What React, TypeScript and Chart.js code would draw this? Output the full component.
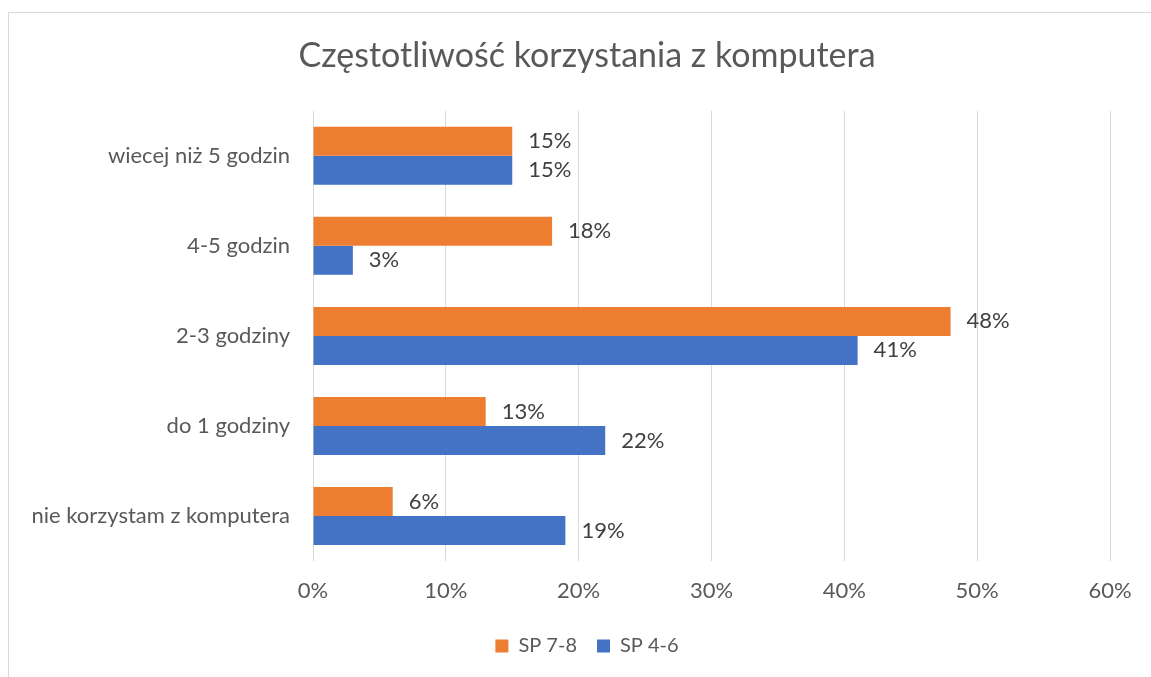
import { useEffect, useRef } from "react";
import { Chart, registerables } from "chart.js";

Chart.register(...registerables);

const chartTitle = "Częstotliwość korzystania z komputera";
const categories = [
  "wiecej niż 5 godzin",
  "4-5 godzin",
  "2-3 godziny",
  "do 1 godziny",
  "nie korzystam z komputera",
];
const seriesNames = ["SP 7-8", "SP 4-6"];
const sp78Values = [15, 18, 48, 13, 6];
const sp46Values = [15, 3, 41, 22, 19];
const xTickMin = 0;
const xTickMax = 60;
const xTickStep = 10;

const FONT = "Lato";
const FS = 22;
const TEXT = "#595959";
const LABEL_TEXT = "#404040";
const GRID = "#d9d9d9";
const ORANGE = "#ED7D31";
const BLUE = "#4472C4";

const dataLabelPlugin = {
  id: "dataLabels",
  afterDatasetsDraw(chart: any) {
    const ctx = chart.ctx;
    ctx.save();
    ctx.font = `${FS}px ${FONT}`;
    ctx.fillStyle = LABEL_TEXT;
    ctx.textAlign = "left";
    ctx.textBaseline = "middle";
    chart.data.datasets.forEach((ds: any, i: number) => {
      const meta = chart.getDatasetMeta(i);
      meta.data.forEach((el: any, j: number) => {
        ctx.fillText(`${ds.data[j]}%`, el.x + 16, el.y);
      });
    });
    ctx.restore();
  },
};

// let long category labels extend past the y-axis box without being clipped
const unclipYLabels = {
  id: "unclipYLabels",
  afterLayout(chart: any) {
    if (chart.scales.y) chart.scales.y.left = 0;
  },
};

export default function App() {
  const ref = useRef<HTMLCanvasElement | null>(null);

  useEffect(() => {
    if (!ref.current) return;
    Chart.defaults.font.family = FONT;
    const chart = new Chart(ref.current, {
      type: "bar",
      data: {
        labels: categories,
        datasets: [
          {
            label: seriesNames[0],
            data: sp78Values,
            backgroundColor: ORANGE,
            categoryPercentage: 0.644,
            barPercentage: 1,
          },
          {
            label: seriesNames[1],
            data: sp46Values,
            backgroundColor: BLUE,
            categoryPercentage: 0.644,
            barPercentage: 1,
          },
        ],
      },
      options: {
        indexAxis: "y",
        responsive: false,
        animation: false,
        devicePixelRatio: 1,
        layout: { padding: { left: 64, right: 41, top: 0, bottom: 11 } },
        scales: {
          x: {
            type: "linear",
            min: xTickMin,
            max: xTickMax,
            ticks: {
              stepSize: xTickStep,
              callback: (v: any) => `${v}%`,
              font: { size: FS, family: FONT },
              color: TEXT,
              padding: 17,
            },
            grid: { color: GRID, lineWidth: 1, drawTicks: false },
            border: { display: false },
            afterFit: (s: any) => {
              s.height = 55;
            },
          },
          y: {
            ticks: {
              font: { size: FS, family: FONT },
              color: TEXT,
              padding: 23,
            },
            grid: { display: false, drawTicks: false },
            border: { display: false },
            afterFit: (s: any) => {
              s.width = 249;
            },
          },
        },
        plugins: {
          title: {
            display: true,
            text: chartTitle,
            color: TEXT,
            font: { size: 34, family: FONT, weight: "normal" },
            padding: { top: 36, bottom: 34 },
          },
          legend: {
            position: "bottom",
            labels: {
              boxWidth: 13,
              boxHeight: 13,
              padding: 20,
              color: TEXT,
              font: { size: 20, family: FONT },
            },
          },
          tooltip: { enabled: false },
        },
      },
      plugins: [dataLabelPlugin, unclipYLabels],
    } as any);
    return () => chart.destroy();
  }, []);

  return (
    <div>
      <div
        style={{
          position: "fixed",
          left: 8,
          top: 12,
          width: 1300,
          height: 900,
          border: `1px solid ${GRID}`,
          background: "#fff",
        }}
      />
      <canvas
        ref={ref}
        width={1151}
        height={677}
        style={{ position: "fixed", left: 0, top: 0, width: 1151, height: 677 }}
      />
    </div>
  );
}
